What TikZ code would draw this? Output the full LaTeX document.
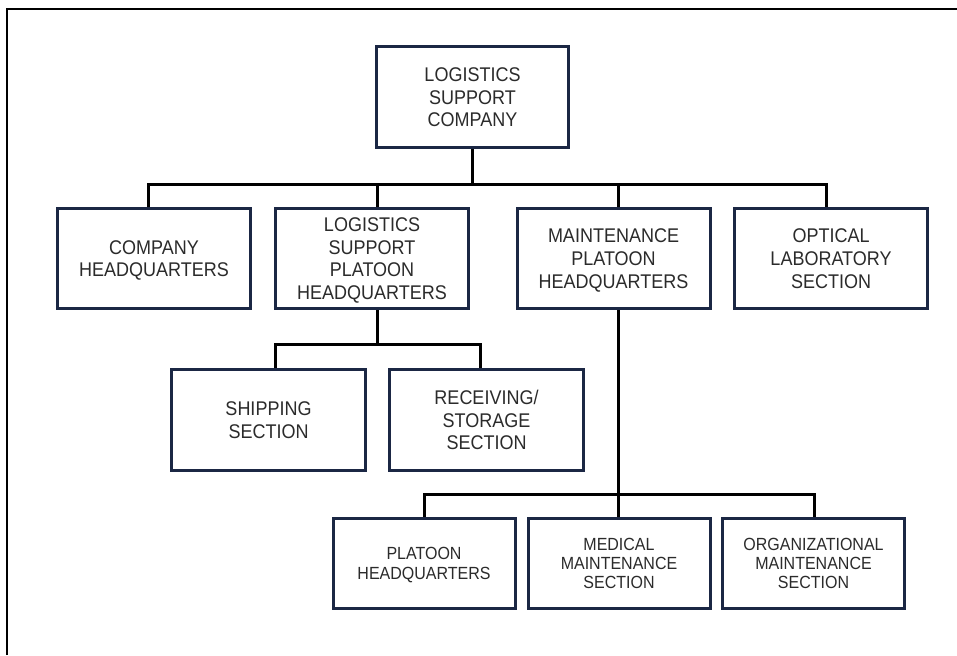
\documentclass[tikz,border=0pt]{standalone}
\usepackage{fontspec}
\setmainfont{Liberation Sans}
\definecolor{boxline}{HTML}{1B2744}
\definecolor{txt}{HTML}{2B2B2B}
\newcommand{\stx}[1]{\raisebox{-2.6pt}[\height][\depth]{\scalebox{1}[1.1]{\begin{tabular}{@{}c@{}}#1\end{tabular}}}}
\begin{document}
\begin{tikzpicture}[x=1pt,y=-1pt,
  unitbox/.style={draw=boxline,line width=3pt,fill=white,align=center,text=txt,
    inner sep=0pt,minimum width=193pt,minimum height=100pt,
    font=\fontsize{18}{20.6}\selectfont},
  smallbox/.style={unitbox,minimum width=182pt,minimum height=90pt,
    font=\fontsize{16}{17.7}\selectfont},
  conn/.style={draw=black,line width=3pt}]
\useasboundingbox (0,0) rectangle (957,655);
% frame
\draw[line width=2.8pt] (7,655) -- (7,9) -- (957,9);
% nodes
\node[unitbox,minimum width=192pt,minimum height=101pt] (top) at (472.5,97) {\stx{LOGISTICS\\SUPPORT\\COMPANY}};
\node[unitbox] (b1) at (154,258.5) {\stx{COMPANY\\HEADQUARTERS}};
\node[unitbox] (b2) at (372,258.5) {\stx{LOGISTICS\\SUPPORT\\PLATOON\\HEADQUARTERS}};
\node[unitbox] (b3) at (613.5,258.5) {\stx{MAINTENANCE\\PLATOON\\HEADQUARTERS}};
\node[unitbox] (b4) at (831,258.5) {\stx{OPTICAL\\LABORATORY\\SECTION}};
\node[unitbox,minimum width=194pt,minimum height=101pt] (ship) at (268.5,420) {\stx{SHIPPING\\SECTION}};
\node[unitbox,minimum width=194pt,minimum height=101pt] (recv) at (486.5,420) {\stx{RECEIVING/\\STORAGE\\SECTION}};
\node[smallbox] (plt) at (424,563) {\stx{PLATOON\\HEADQUARTERS}};
\node[smallbox] (med) at (619,563) {\stx{MEDICAL\\MAINTENANCE\\SECTION}};
\node[smallbox] (org) at (813.5,563) {\stx{ORGANIZATIONAL\\MAINTENANCE\\SECTION}};
% junctions
\coordinate (jt) at (472.5,184);
\coordinate (j1) at (148,184);
\coordinate (j2) at (377,184);
\coordinate (j3) at (618,184);
\coordinate (j4) at (826,184);
\coordinate (k0) at (377,344);
\coordinate (k1) at (275,344);
\coordinate (k2) at (480,344);
\coordinate (m0) at (618,494.5);
\coordinate (m1) at (424,494.5);
\coordinate (m2) at (814,494.5);
% connectors
\draw[conn] (top.south) -- (jt);
\draw[conn] (j1 |- b1.north) -- (j1) -- (j4) -- (j4 |- b4.north);
\draw[conn] (j2) -- (j2 |- b2.north);
\draw[conn] (j3) -- (j3 |- b3.north);
\draw[conn] (b2.south -| k0) -- (k0);
\draw[conn] (k1 |- ship.north) -- (k1) -- (k2) -- (k2 |- recv.north);
\draw[conn] (b3.south -| m0) -- (m0) -- (m0 |- med.north);
\draw[conn] (m1 |- plt.north) -- (m1) -- (m2) -- (m2 |- org.north);
\end{tikzpicture}
\end{document}
